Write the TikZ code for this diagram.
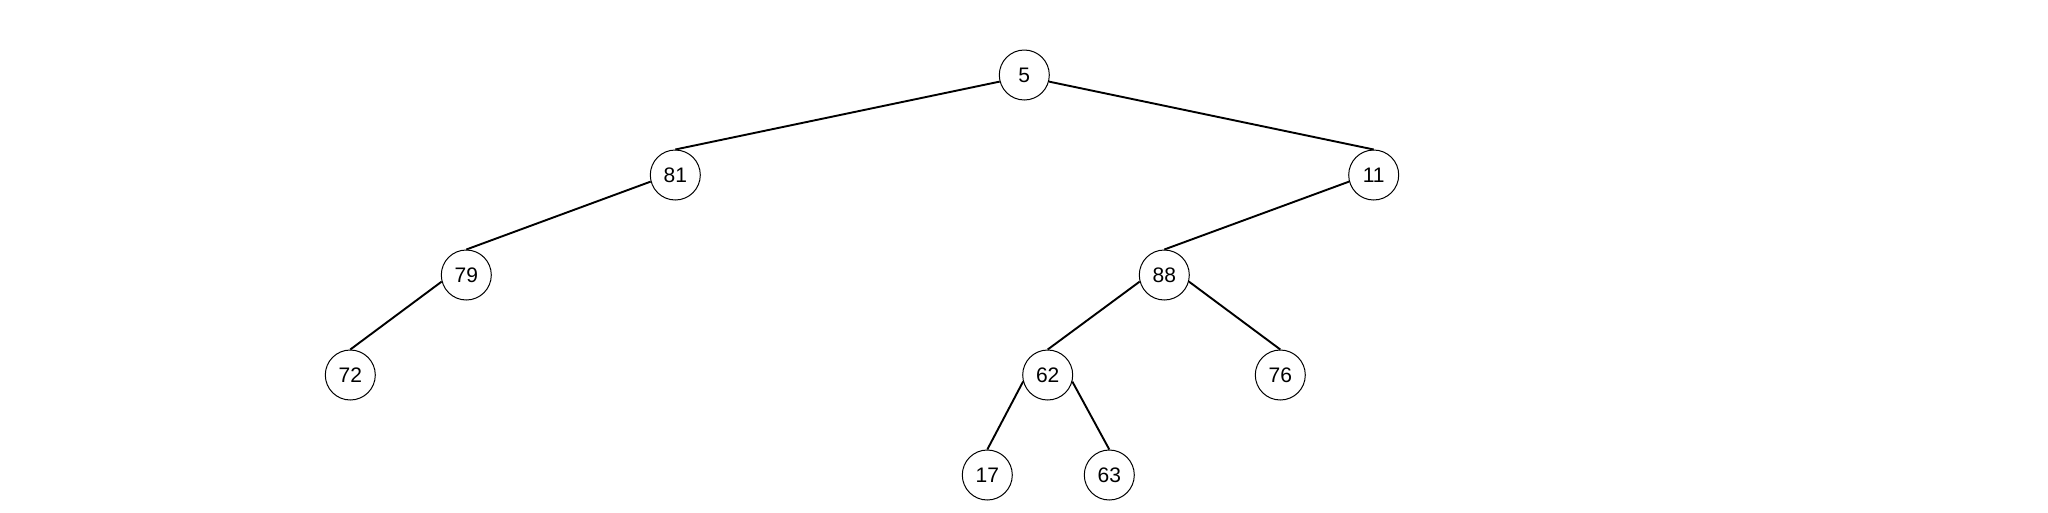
\documentclass[tikz,border=0pt]{standalone}
\usepackage{fontspec}
\setmainfont{Liberation Sans}
\begin{document}
\begin{tikzpicture}[x=1pt,y=-1pt,
  treenode/.style={circle,draw=black,line width=1pt,fill=white,minimum size=50pt,inner sep=0pt,font=\fontsize{21}{25}\selectfont},
  edge/.style={draw=black,line width=1.9pt}]
\useasboundingbox[fill=white] (0,0) rectangle (2048,512);
\node[treenode] (n5)  at (1024.3,75)  {5};
\node[treenode] (n81) at (675.3,175)  {81};
\node[treenode] (n11) at (1373.7,175) {11};
\node[treenode] (n79) at (466.3,275)  {79};
\node[treenode] (n88) at (1164.3,275) {88};
\node[treenode] (n72) at (350.3,375)  {72};
\node[treenode] (n62) at (1047.7,375) {62};
\node[treenode] (n76) at (1280.3,375) {76};
\node[treenode] (n17) at (987.3,475)  {17};
\node[treenode] (n63) at (1109.3,475) {63};
\draw[edge] (n5.195) -- (n81.north);
\draw[edge] (n5.345) -- (n11.north);
\draw[edge] (n81.195) -- (n79.north);
\draw[edge] (n11.195) -- (n88.north);
\draw[edge] (n79.195) -- (n72.north);
\draw[edge] (n88.195) -- (n62.north);
\draw[edge] (n88.345) -- (n76.north);
\draw[edge] (n62.195) -- (n17.north);
\draw[edge] (n62.345) -- (n63.north);
\end{tikzpicture}
\end{document}
